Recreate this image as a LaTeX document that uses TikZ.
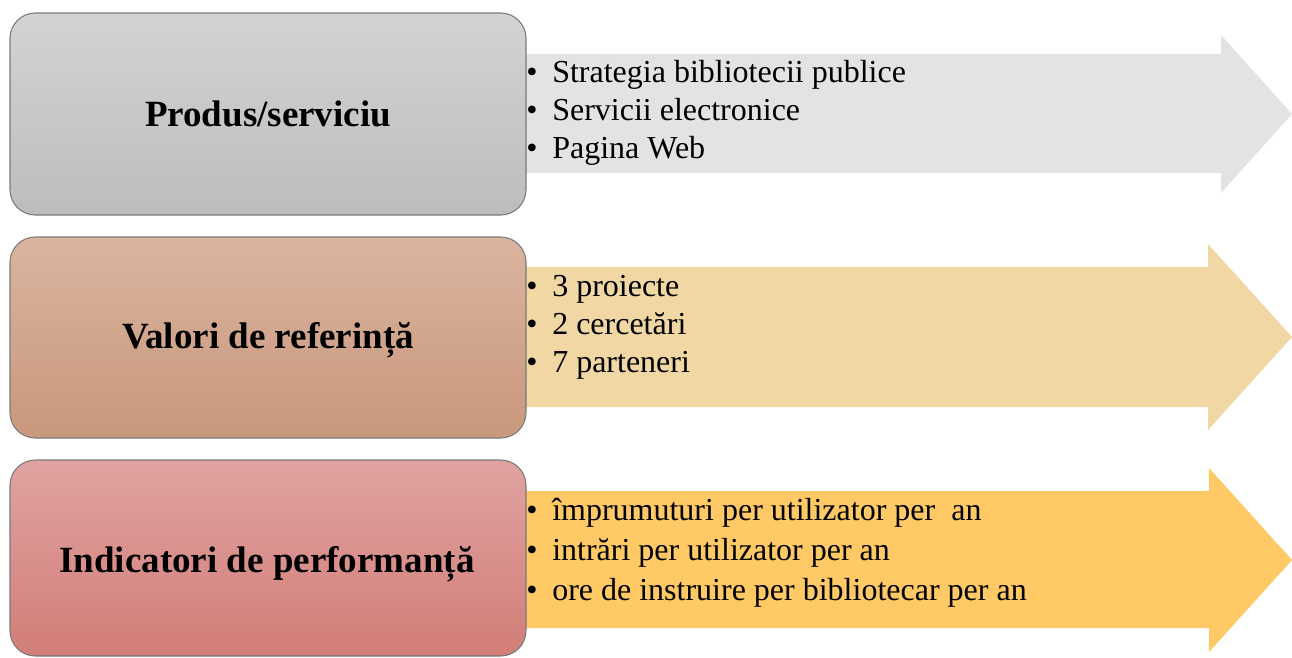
\documentclass[tikz,border=0pt]{standalone}
\usepackage{fontspec}
\setmainfont{Liberation Serif}
\definecolor{arrA}{HTML}{E3E3E3}
\definecolor{arrB}{HTML}{F1D7A4}
\definecolor{arrC}{HTML}{FFC966}
\definecolor{boxAt}{HTML}{D3D3D3}
\definecolor{boxAb}{HTML}{BDBDBD}
\definecolor{boxBt}{HTML}{DBB49F}
\definecolor{boxBb}{HTML}{C8987C}
\definecolor{boxCt}{HTML}{E0A3A1}
\definecolor{boxCb}{HTML}{D27D78}
\definecolor{edge}{HTML}{7A7A7A}
\newcommand{\blt}{\makebox[19.5pt][l]{•}}
\begin{document}
\begin{tikzpicture}[x=0.75pt,y=-0.75pt,
  box/.style={draw=edge, line width=0.8pt, rounded corners=19pt, minimum width=387pt, inner sep=0pt},
  label/.style={anchor=base, inner sep=0pt, font=\fontsize{27.75}{32}\selectfont\bfseries},
  item/.style={anchor=base west, inner sep=0pt, font=\fontsize{24}{28}\selectfont}]
\useasboundingbox (0,0) rectangle (1292,657);
% arrows
\fill[arrA] (500,54) -- (1221,54) -- (1221,35) -- (1292,114) -- (1221,193) -- (1221,173) -- (500,173) -- cycle;
\fill[arrB] (500,267) -- (1208,267) -- (1208,244) -- (1292,337) -- (1208,430) -- (1208,407) -- (500,407) -- cycle;
\fill[arrC] (500,491) -- (1209,491) -- (1209,468) -- (1292,560) -- (1209,652) -- (1209,628) -- (500,628) -- cycle;
% boxes
\node[box, top color=boxAt, bottom color=boxAb, minimum height=151.5pt] (b1) at (268,114) {};
\node[box, top color=boxBt, bottom color=boxBb, minimum height=150.75pt] (b2) at (268,337.5) {};
\node[box, top color=boxCt, bottom color=boxCb, minimum height=147pt] (b3) at (268,558) {};
% labels
\node[label] (t1) at (268,126) {Produs/serviciu};
\node[label] (t2) at (268,348) {Valori de referință};
\node[label] (t3) at (267,572) {Indicatori de performanță};
% items
\node[item] (i11) at (526,82) {\blt Strategia bibliotecii publice};
\node[item] (i12) at (526,120) {\blt Servicii electronice};
\node[item] (i13) at (526,158) {\blt Pagina Web};
\node[item] (i21) at (526,296) {\blt 3 proiecte};
\node[item] (i22) at (526,334) {\blt 2 cercetări};
\node[item] (i23) at (526,372) {\blt 7 parteneri};
\node[item] (i31) at (526,520) {\blt împrumuturi per utilizator per\ \ an};
\node[item] (i32) at (526,560) {\blt intrări per utilizator per an};
\node[item] (i33) at (526,600) {\blt ore de instruire per bibliotecar per an};
\end{tikzpicture}
\end{document}
